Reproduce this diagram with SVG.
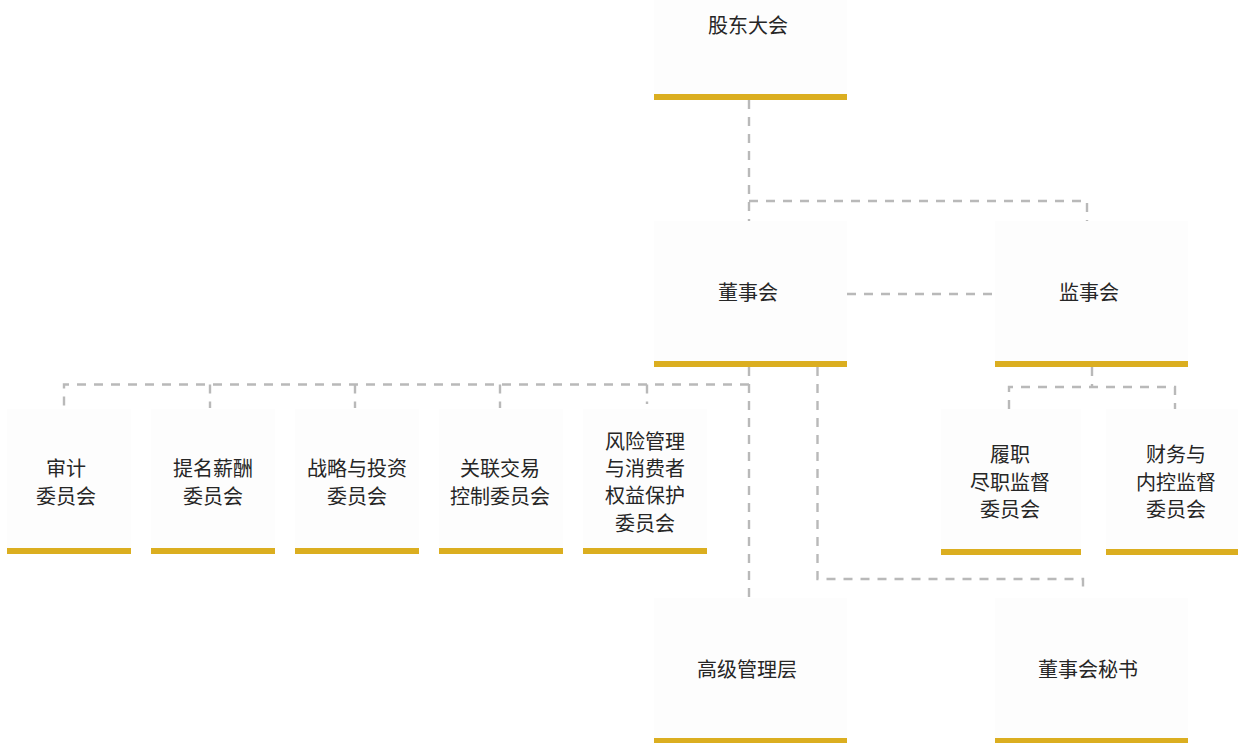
<svg xmlns="http://www.w3.org/2000/svg" width="1238" height="743" viewBox="0 0 1238 743">
<style>
.bg{fill:#fdfdfd}
.bar{fill:#dbae20}
.t{font-family:"Noto Sans CJK SC","Noto Sans",sans-serif;font-size:20px;fill:#262626;text-anchor:middle;dominant-baseline:central}
.c{fill:none;stroke:#b9b9b9;stroke-width:2.4;stroke-dasharray:9 8}
</style>
<rect width="1238" height="743" fill="#ffffff"/>
<g id="connectors">
<path class="c" d="M749 100 V221"/>
<path class="c" d="M749 201 H1087 V221"/>
<path class="c" d="M847 294 H995"/>
<path class="c" d="M749 367 V598"/>
<path class="c" d="M749 384.5 H64 V409"/>
<path class="c" d="M210 384.5 V408"/>
<path class="c" d="M355 384.5 V408"/>
<path class="c" d="M500 384.5 V408"/>
<path class="c" d="M647 384.5 V404"/>
<path class="c" d="M817.5 367 V579 H1083 V594"/>
<path class="c" d="M1092 367 V387"/>
<path class="c" d="M1009 409 V387 H1175 V409"/>
</g>
<g id="n-gudong">
<rect class="bg" x="654" y="-46" width="193" height="140"/>
<rect class="bar" x="654" y="94" width="193" height="6"/>
<text class="t" x="748" y="24">股东大会</text>
</g>
<g id="n-dongshihui">
<rect class="bg" x="654" y="221" width="193" height="140"/>
<rect class="bar" x="654" y="361" width="193" height="6"/>
<text class="t" x="748" y="291">董事会</text>
</g>
<g id="n-jianshihui">
<rect class="bg" x="995" y="221" width="193" height="140"/>
<rect class="bar" x="995" y="361" width="193" height="6"/>
<text class="t" x="1089" y="291">监事会</text>
</g>
<g id="n-shenji">
<rect class="bg" x="7" y="409" width="124" height="139"/>
<rect class="bar" x="7" y="548" width="124" height="6"/>
<text class="t" x="66" y="467">审计</text>
<text class="t" x="66" y="495">委员会</text>
</g>
<g id="n-timing">
<rect class="bg" x="151" y="409" width="124" height="139"/>
<rect class="bar" x="151" y="548" width="124" height="6"/>
<text class="t" x="213" y="467">提名薪酬</text>
<text class="t" x="213" y="495">委员会</text>
</g>
<g id="n-zhanlue">
<rect class="bg" x="295" y="409" width="124" height="139"/>
<rect class="bar" x="295" y="548" width="124" height="6"/>
<text class="t" x="357" y="467">战略与投资</text>
<text class="t" x="357" y="495">委员会</text>
</g>
<g id="n-guanlian">
<rect class="bg" x="439" y="409" width="124" height="139"/>
<rect class="bar" x="439" y="548" width="124" height="6"/>
<text class="t" x="500" y="467">关联交易</text>
<text class="t" x="500" y="495">控制委员会</text>
</g>
<g id="n-fengxian">
<rect class="bg" x="583" y="409" width="124" height="139"/>
<rect class="bar" x="583" y="548" width="124" height="6"/>
<text class="t" x="645" y="440">风险管理</text>
<text class="t" x="645" y="467.5">与消费者</text>
<text class="t" x="645" y="494.5">权益保护</text>
<text class="t" x="645" y="522">委员会</text>
</g>
<g id="n-lvzhi">
<rect class="bg" x="941" y="409" width="140" height="140"/>
<rect class="bar" x="941" y="549" width="140" height="6"/>
<text class="t" x="1010" y="453">履职</text>
<text class="t" x="1010" y="481">尽职监督</text>
<text class="t" x="1010" y="508">委员会</text>
</g>
<g id="n-caiwu">
<rect class="bg" x="1106" y="409" width="140" height="140"/>
<rect class="bar" x="1106" y="549" width="140" height="6"/>
<text class="t" x="1176" y="453">财务与</text>
<text class="t" x="1176" y="481">内控监督</text>
<text class="t" x="1176" y="508">委员会</text>
</g>
<g id="n-gaoguan">
<rect class="bg" x="654" y="598" width="193" height="140"/>
<rect class="bar" x="654" y="738" width="193" height="6"/>
<text class="t" x="747" y="668">高级管理层</text>
</g>
<g id="n-mishu">
<rect class="bg" x="995" y="598" width="193" height="140"/>
<rect class="bar" x="995" y="738" width="193" height="6"/>
<text class="t" x="1088" y="668">董事会秘书</text>
</g>
</svg>
